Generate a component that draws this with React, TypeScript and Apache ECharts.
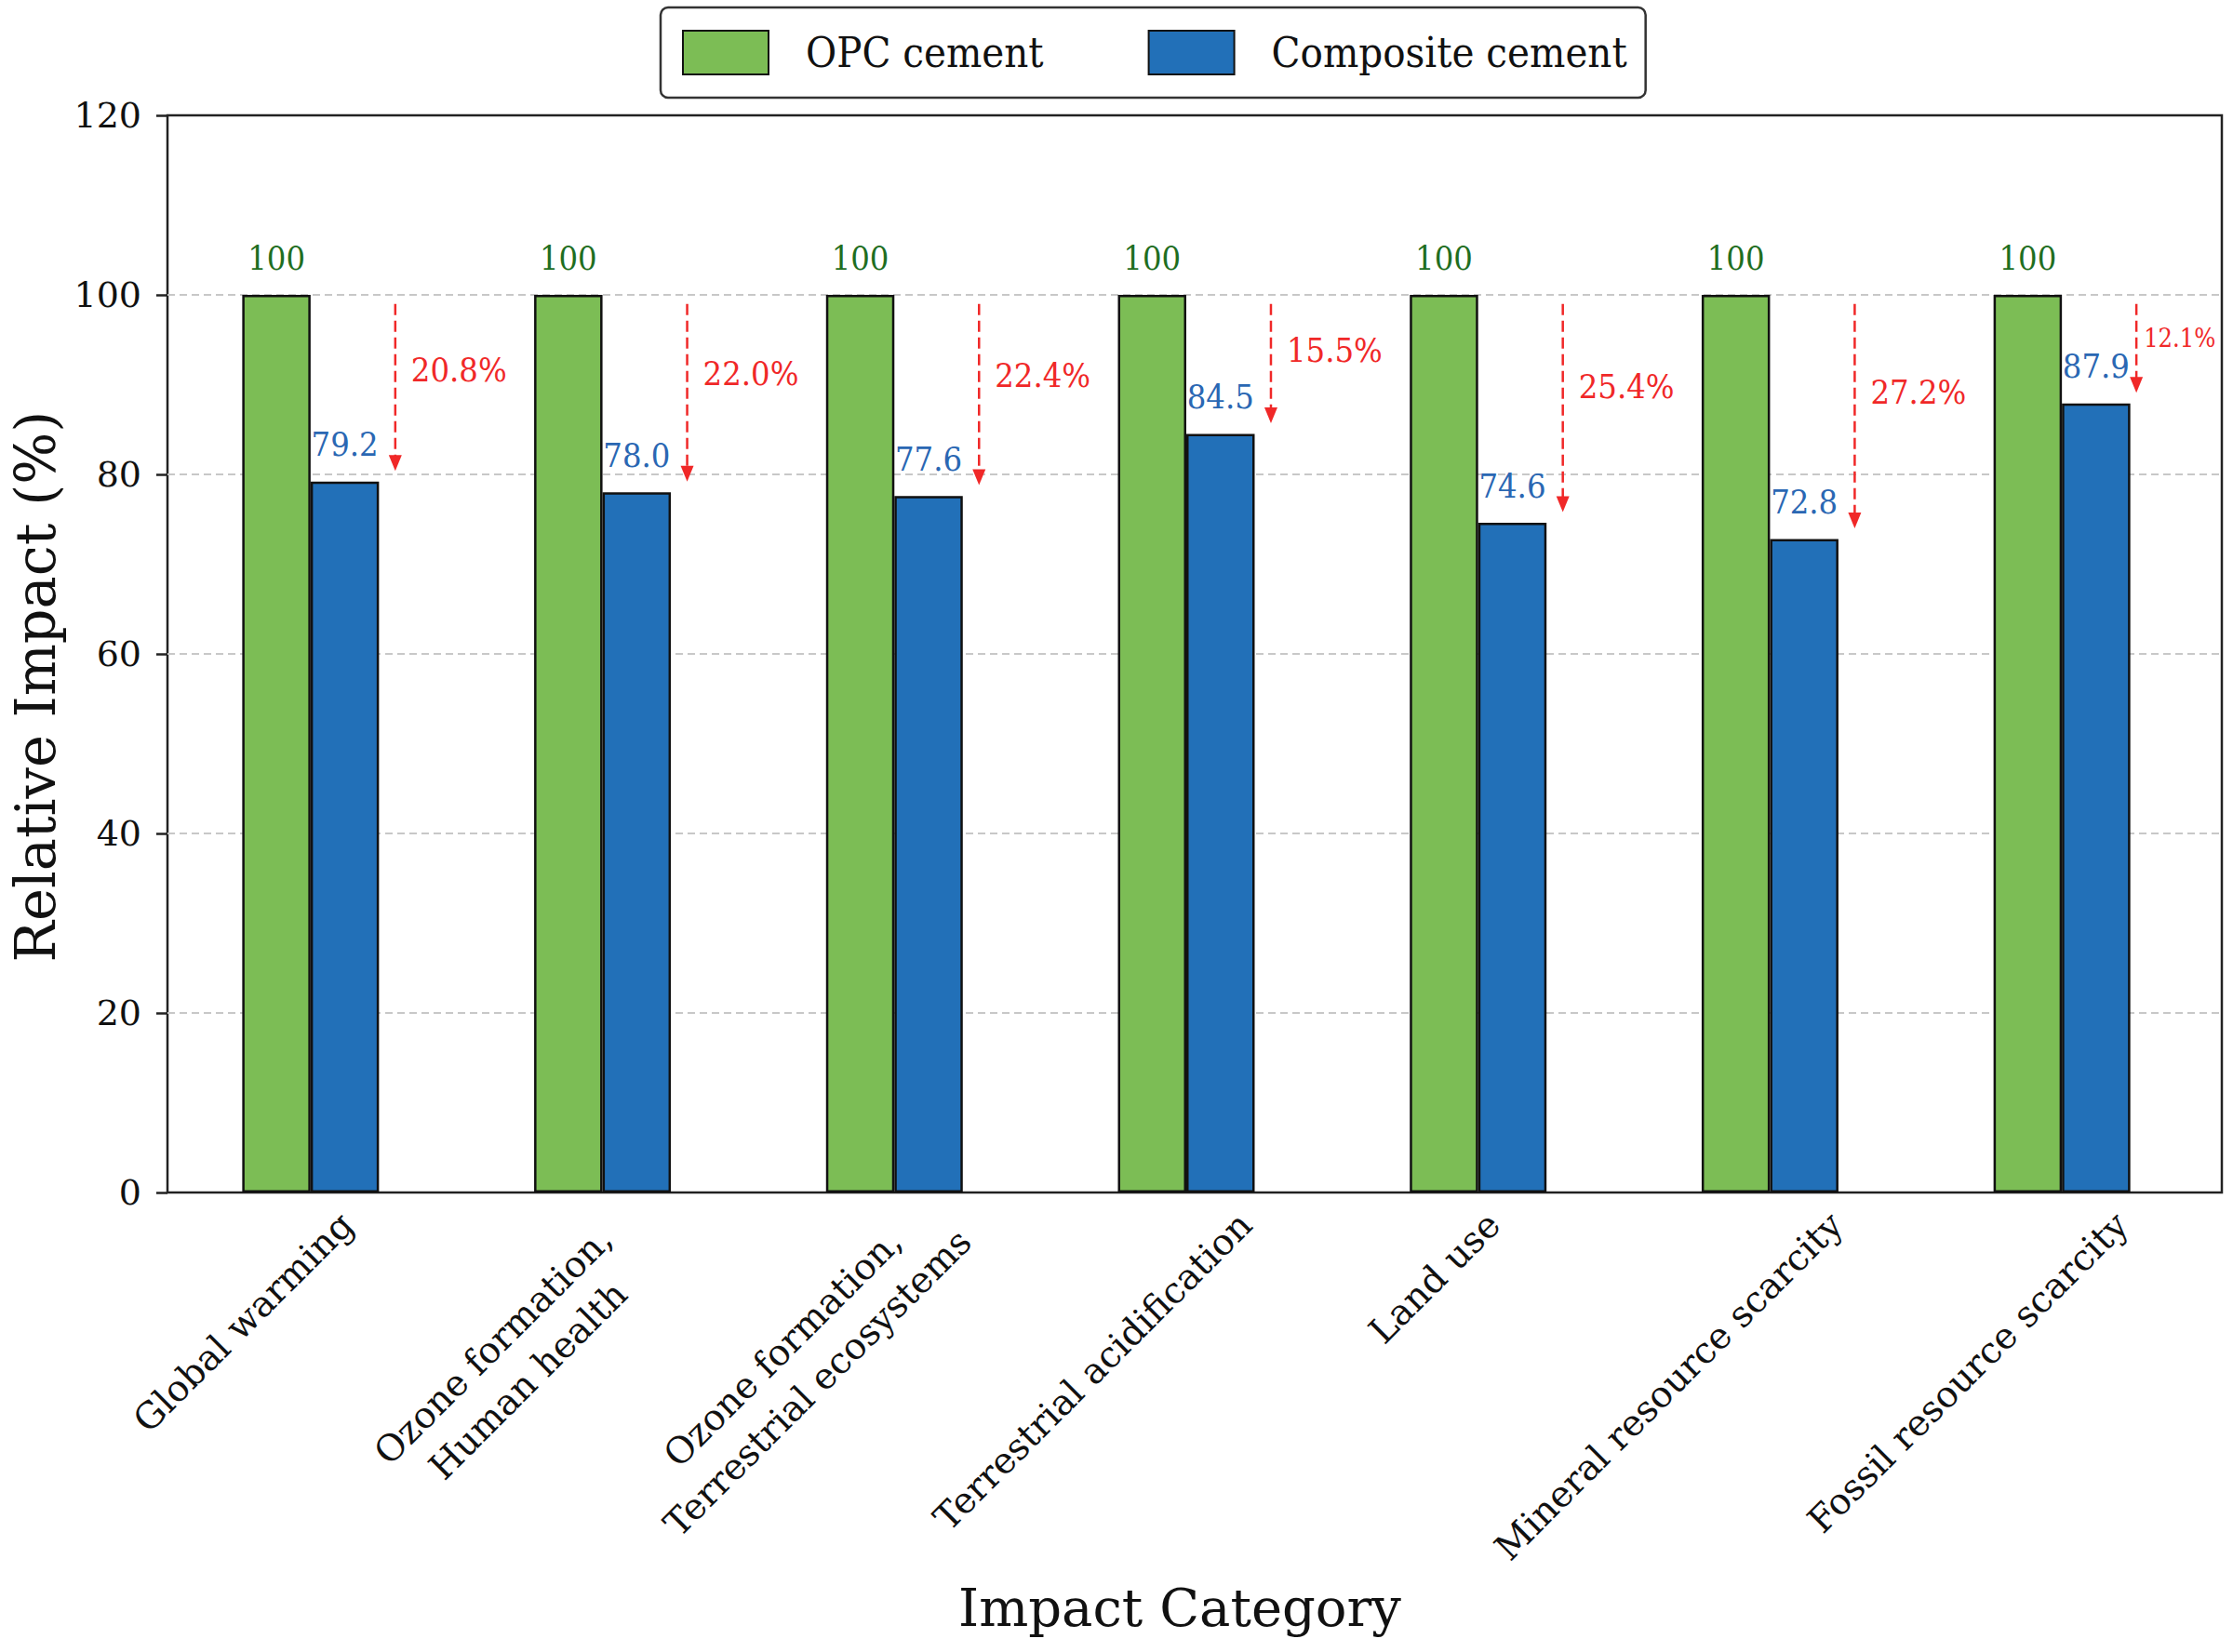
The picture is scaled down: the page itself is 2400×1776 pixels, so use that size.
import React, { useEffect, useRef } from "react";
import * as echarts from "echarts";

const categories = [
  "Global warming",
  "Ozone formation,\nHuman health",
  "Ozone formation,\nTerrestrial ecosystems",
  "Terrestrial acidification",
  "Land use",
  "Mineral resource scarcity",
  "Fossil resource scarcity",
];
const opcValues = [100, 100, 100, 100, 100, 100, 100];
const compositeValues = [79.2, 78.0, 77.6, 84.5, 74.6, 72.8, 87.9];
const yMin = 0;
const yMax = 120;
const yStep = 20;

const FONT_C = "'DejaVu Serif Condensed', 'DejaVu Serif', serif";
const FONT = "'DejaVu Serif', serif";
const GREEN = "#7cbd55";
const BLUE = "#2270b8";
const RED = "#f02828";

function buildCategoryRich(catText: any) {
  const canvas = document.createElement("canvas");
  const ctx = canvas.getContext("2d") as CanvasRenderingContext2D;
  ctx.font = "39px 'DejaVu Serif'";
  const rich: any = {};
  const reach = 73;
  categories.forEach((c, i) => {
    const lines = c.split("\n");
    if (lines.length === 1) {
      const w = ctx.measureText(c).width;
      const endX = -13 + 0.165 * w;
      const pr = Math.max(0, (reach - endX) / Math.SQRT2);
      const b = (reach + endX) / Math.SQRT2;
      const d = 2 * (b - 63);
      rich["s" + i] = { ...catText, padding: [Math.max(0, d), pr, Math.max(0, -d), 0] };
    } else {
      const firstLonger = ctx.measureText(lines[0]).width >= ctx.measureText(lines[1]).width;
      const pr = firstLonger ? 60 : 11;
      const multi = { ...catText, lineHeight: 53, padding: [57, pr, 0, 0] };
      rich["f" + i] = { ...multi };
      rich["g" + i] = { ...multi };
    }
  });
  return rich;
}

export default function App() {
  const ref = useRef<HTMLDivElement>(null);
  useEffect(() => {
    if (!ref.current) return;
    const chart = echarts.init(ref.current, undefined, { renderer: "svg" });
    const last = categories.length - 1;
    const catText = { fontFamily: FONT, fontSize: 39, color: "#111", lineHeight: 58, align: "center" };
    const catRich = buildCategoryRich(catText);
    const option: any = {
      animation: false,
      backgroundColor: "#ffffff",
      textStyle: { fontFamily: FONT },
      legend: {
        data: ["OPC cement", "Composite cement"],
        left: 710,
        top: 8,
        orient: "horizontal",
        icon: "rect",
        itemWidth: 92,
        itemHeight: 47,
        itemGap: 112,
        padding: [24, 20, 24, 23],
        borderColor: "#333",
        borderWidth: 2.5,
        borderRadius: 8,
        textStyle: { fontFamily: FONT_C, fontSize: 45, color: "#111", padding: [0, 0, 0, 35] },
      },
      grid: [
        { left: 177, right: 27, top: 124, bottom: 494, show: false },
        {
          left: 180,
          right: 12,
          top: 124,
          bottom: 494,
          show: true,
          borderColor: "#222",
          borderWidth: 2.5,
          backgroundColor: "transparent",
        },
      ],
      xAxis: [
        {
          gridIndex: 0,
          type: "category",
          data: categories,
          axisLine: { show: false },
          axisTick: { show: false },
          axisLabel: {
            interval: 0,
            rotate: 45,
            margin: -45,
            fontSize: 39,
            fontFamily: FONT,
            color: "#111",
            padding: [126, 0, 0, 0],
            formatter: (val: string, idx: number) => {
              const lines = val.split("\n");
              if (lines.length === 1) return `{s${idx}|${val}}`;
              return `{f${idx}|${lines[0]}}\n{g${idx}|${lines[1]}}`;
            },
            rich: catRich,
          },
        },
        { gridIndex: 1, type: "value", min: 0, max: 1, show: false },
      ],
      yAxis: [
        { gridIndex: 0, type: "value", min: yMin, max: yMax, interval: yStep, show: false },
        {
          gridIndex: 1,
          type: "value",
          min: yMin,
          max: yMax,
          interval: yStep,
          axisLine: { show: false },
          axisTick: { show: true, inside: false, length: 12, lineStyle: { color: "#222", width: 2.5 } },
          axisLabel: { margin: 28, fontSize: 38, color: "#111", fontFamily: FONT },
          splitLine: {
            show: true,
            showMinLine: false,
            showMaxLine: false,
            lineStyle: { color: "#c8c8c8", type: [8, 5], width: 2 },
          },
        },
      ],
      series: [
        {
          name: "OPC cement",
          type: "bar",
          xAxisIndex: 0,
          yAxisIndex: 0,
          data: opcValues,
          barWidth: 73.5,
          barGap: "0%",
          itemStyle: { color: GREEN, borderColor: "#111", borderWidth: 2.5 },
          label: {
            show: true,
            position: "top",
            distance: 22,
            fontSize: 36,
            fontFamily: FONT_C,
            color: "#1f6e1f",
            formatter: (p: any) => String(p.value),
          },
        },
        {
          name: "Composite cement",
          type: "bar",
          xAxisIndex: 0,
          yAxisIndex: 0,
          data: compositeValues,
          barWidth: 73.5,
          barGap: "0%",
          itemStyle: { color: BLUE, borderColor: "#111", borderWidth: 2.5 },
          label: {
            show: true,
            position: "top",
            distance: 22,
            fontSize: 36,
            fontFamily: FONT_C,
            color: "#2a67b3",
            formatter: (p: any) => Number(p.value).toFixed(1),
          },
        },
        {
          type: "custom",
          xAxisIndex: 0,
          yAxisIndex: 0,
          silent: true,
          z: 5,
          data: compositeValues.map((v, i) => [i, v, opcValues[i]]),
          renderItem: (params: any, api: any) => {
            const i = api.value(0);
            const v = api.value(1);
            const ref0 = api.value(2);
            const band = api.size([1, 0])[0];
            const isLast = i === last;
            const x = api.coord([i, ref0])[0] + band * (isLast ? 0.255 : 0.29);
            const yStart = api.coord([i, ref0 - 1])[1];
            const yTip = api.coord([i, v + 1.2])[1];
            const pct = ref0 - v;
            const yText = api.coord([i, ref0 - 0.4 * pct])[1];
            return {
              type: "group",
              children: [
                {
                  type: "line",
                  shape: { x1: x, y1: yStart, x2: x, y2: yTip - 14 },
                  style: { stroke: RED, lineWidth: 2.5, lineDash: [12, 6] },
                },
                {
                  type: "polygon",
                  shape: { points: [[x - 7, yTip - 17], [x + 7, yTip - 17], [x, yTip]] },
                  style: { fill: RED },
                },
                {
                  type: "text",
                  x: x + (isLast ? 8 : 17),
                  y: yText,
                  style: {
                    text: pct.toFixed(1) + "%",
                    fill: RED,
                    fontSize: isLast ? 27 : 36,
                    fontFamily: FONT_C,
                    textAlign: "left",
                    textVerticalAlign: "middle",
                  },
                },
              ],
            };
          },
        },
      ],
      graphic: [
        {
          type: "text",
          x: 38,
          y: 738,
          rotation: Math.PI / 2,
          style: {
            text: "Relative Impact (%)",
            fontSize: 59,
            fontFamily: FONT,
            fill: "#111",
            textAlign: "center",
            textVerticalAlign: "middle",
          },
        },
        {
          type: "text",
          x: 1268,
          y: 1728,
          style: {
            text: "Impact Category",
            fontSize: 56,
            fontFamily: FONT,
            fill: "#111",
            textAlign: "center",
            textVerticalAlign: "middle",
          },
        },
      ],
    };
    chart.setOption(option);
    return () => chart.dispose();
  }, []);
  return (
    <div
      ref={ref}
      style={{ position: "fixed", left: 0, top: 0, width: 2400, height: 1776, background: "#fff" }}
    />
  );
}
